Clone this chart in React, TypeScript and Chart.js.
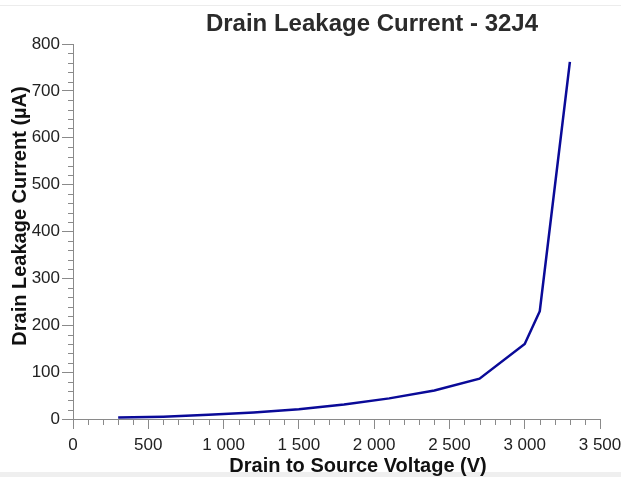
import React, { useEffect, useRef } from "react";
import { Chart, registerables } from "chart.js";

Chart.register(...registerables);

const chartTitle = "Drain Leakage Current - 32J4";
const xAxisTitle = "Drain to Source Voltage (V)";
const yAxisTitle = "Drain Leakage Current (\u00b5A)";

const voltage = [300, 600, 900, 1200, 1500, 1800, 2100, 2400, 2700, 3000, 3100, 3300];
const current = [3, 5, 9, 14, 21, 31, 44, 61, 86, 160, 230, 762];

const xMin = 0;
const xMax = 3500;
const xMajor = 500;
const xMinor = 100;
const yMin = 0;
const yMax = 800;
const yMajor = 100;
const yMinor = 20;

const fmt = (v: number) => String(v).replace(/\B(?=(\d{3})+(?!\d))/g, " ");

const AXIS_COLOR = "#8a8a8a";
const TEXT_COLOR = "#222222";
const FONT = "'Liberation Sans', Arial, sans-serif";

const decorPlugin = {
  id: "decor",
  afterDraw(chart: any) {
    const ctx = chart.ctx as CanvasRenderingContext2D;
    const xs = chart.scales.x;
    const ys = chart.scales.y;
    const area = chart.chartArea;
    ctx.save();
    ctx.strokeStyle = AXIS_COLOR;
    ctx.lineWidth = 1;
    for (let v = xMin; v <= xMax; v += xMinor) {
      if (v % xMajor === 0) continue;
      const px = Math.round(xs.getPixelForValue(v)) + 0.5;
      ctx.beginPath();
      ctx.moveTo(px, area.bottom);
      ctx.lineTo(px, area.bottom + 6);
      ctx.stroke();
    }
    for (let v = yMin; v <= yMax; v += yMinor) {
      if (v % yMajor === 0) continue;
      const py = Math.round(ys.getPixelForValue(v)) + 0.5;
      ctx.beginPath();
      ctx.moveTo(area.left - 5, py);
      ctx.lineTo(area.left, py);
      ctx.stroke();
    }
    ctx.fillStyle = "#2b2b2b";
    ctx.textAlign = "center";
    ctx.textBaseline = "middle";
    ctx.font = `bold 24px ${FONT}`;
    ctx.fillText(chartTitle, 372, 24);
    ctx.fillStyle = "#111111";
    ctx.font = `bold 20px ${FONT}`;
    ctx.fillText(xAxisTitle, 358, 466);
    ctx.save();
    ctx.translate(20, 216);
    ctx.rotate(-Math.PI / 2);
    ctx.fillText(yAxisTitle, 0, 0);
    ctx.restore();
    ctx.restore();
  },
};

export default function App() {
  const ref = useRef<HTMLCanvasElement | null>(null);
  useEffect(() => {
    if (!ref.current) return;
    const chart = new Chart(ref.current, {
      type: "line",
      data: {
        datasets: [
          {
            data: voltage.map((v, i) => ({ x: v, y: current[i] })),
            borderColor: "#0a0a98",
            borderWidth: 2.5,
            pointRadius: 0,
            fill: false,
            tension: 0,
          },
        ],
      },
      options: {
        responsive: false,
        animation: false,
        layout: { padding: { top: 44, right: 21, left: 0, bottom: 0 } },
        plugins: { legend: { display: false }, title: { display: false }, tooltip: { enabled: false } },
        scales: {
          x: {
            type: "linear",
            min: xMin,
            max: xMax,
            afterFit: (s: any) => {
              s.height = 58;
              s.paddingLeft = 0;
              s.paddingRight = 0;
            },
            ticks: {
              stepSize: xMajor,
              padding: 6,
              color: TEXT_COLOR,
              font: { family: FONT, size: 17 },
              maxRotation: 0,
              autoSkip: false,
              callback: (v: any) => fmt(Number(v)),
            },
            grid: { drawOnChartArea: false, tickLength: 10, color: AXIS_COLOR },
            border: { color: AXIS_COLOR },
          },
          y: {
            type: "linear",
            min: yMin,
            max: yMax,
            afterFit: (s: any) => {
              s.width = 73;
              s.paddingTop = 0;
              s.paddingBottom = 0;
            },
            ticks: {
              stepSize: yMajor,
              padding: 2,
              color: TEXT_COLOR,
              font: { family: FONT, size: 17 },
              autoSkip: false,
              callback: (v: any) => fmt(Number(v)),
            },
            grid: { drawOnChartArea: false, tickLength: 11, color: AXIS_COLOR },
            border: { color: AXIS_COLOR },
          },
        },
      },
      plugins: [decorPlugin],
    });
    return () => chart.destroy();
  }, []);
  return (
    <div style={{ position: "absolute", left: 0, top: 0, width: 621, height: 477, background: "#fff", overflow: "hidden" }}>
      <div style={{ position: "absolute", left: 0, top: 5, width: 621, height: 1, background: "#ececec" }} />
      <div style={{ position: "absolute", left: 0, top: 472, width: 621, height: 5, background: "#efefef" }} />
      <canvas ref={ref} width={621} height={477} style={{ position: "absolute", left: 0, top: 0, width: 621, height: 477 }} />
    </div>
  );
}
